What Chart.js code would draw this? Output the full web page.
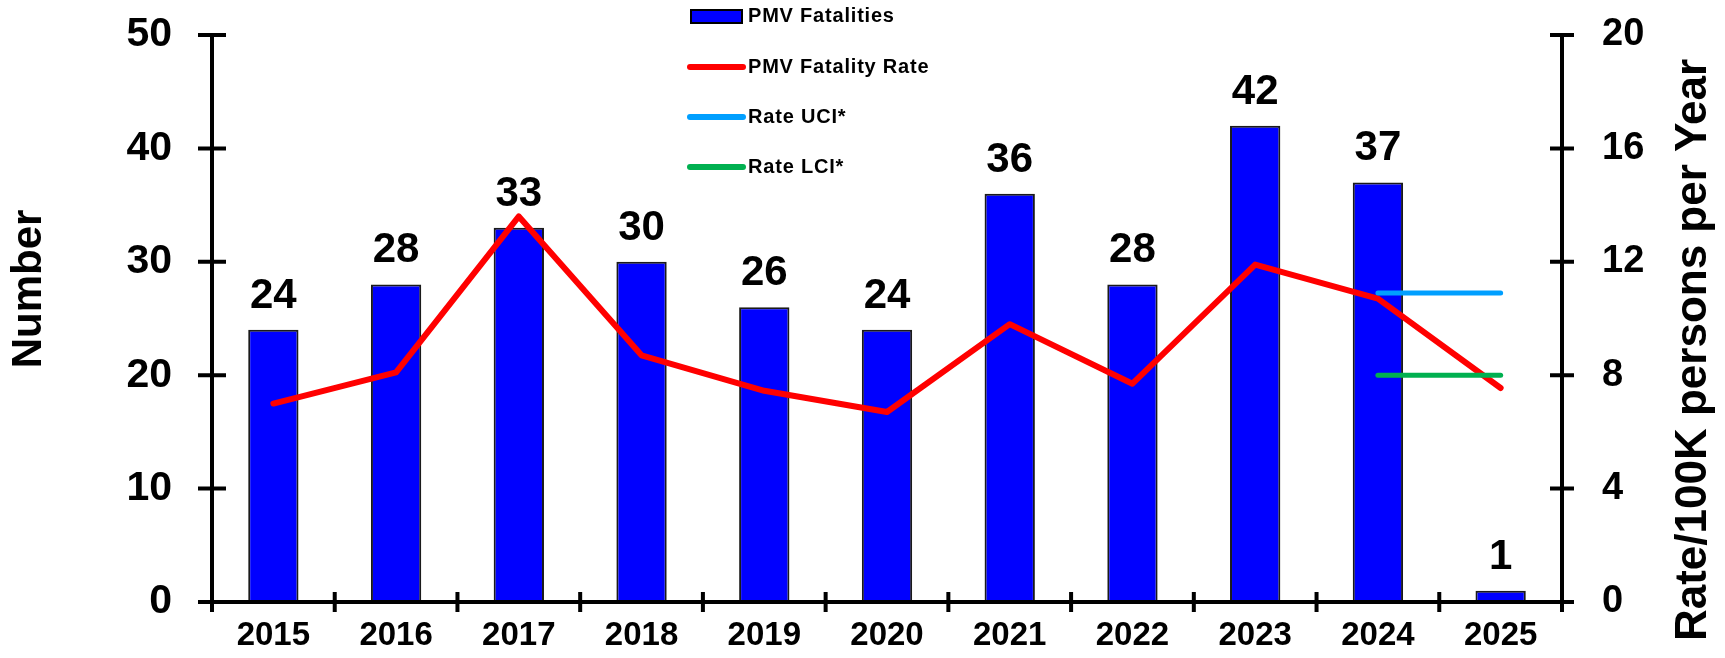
<!DOCTYPE html>
<html>
<head>
<meta charset="utf-8">
<script src="https://cdn.jsdelivr.net/npm/chart.js@4"></script>
<style>
  body { margin: 0; background: #fff; }
  #wrap { width: 1725px; height: 658px; position: relative; }
</style>
</head>
<body>
<div id="wrap"><canvas id="pmvChart"></canvas></div>
<script>
const years = ['2015', '2016', '2017', '2018', '2019', '2020', '2021', '2022', '2023', '2024', '2025'];
const fatalities = [24, 28, 33, 30, 26, 24, 36, 28, 42, 37, 1];
const fatalityRate = [7.0, 8.1, 13.6, 8.7, 7.45, 6.7, 9.8, 7.7, 11.9, 10.7, 7.55];
const rateUCI = [null, null, null, null, null, null, null, null, null, 10.9, 10.9];
const rateLCI = [null, null, null, null, null, null, null, null, null, 8.0, 8.0];
const leftTicks = [0, 10, 20, 30, 40, 50];
const rightTicks = [0, 4, 8, 12, 16, 20];

const FONT = '"Liberation Sans", Arial, sans-serif';

// axes with ticks crossing the line, like the original
const axesPlugin = {
    id: 'axesPlugin',
    afterDatasetsDraw(chart) {
        const ctx = chart.ctx;
        const { y, y1 } = chart.scales;
        const area = chart.chartArea;
        ctx.save();
        ctx.strokeStyle = '#000';
        ctx.lineWidth = 4;
        ctx.lineCap = 'butt';
        ctx.beginPath();
        ctx.moveTo(area.left, area.top);
        ctx.lineTo(area.left, area.bottom + 10);
        ctx.moveTo(area.right, area.top);
        ctx.lineTo(area.right, area.bottom + 10);
        ctx.moveTo(area.left, area.bottom);
        ctx.lineTo(area.right, area.bottom);
        leftTicks.forEach(v => {
            const py = y.getPixelForValue(v);
            ctx.moveTo(area.left - 14, py);
            ctx.lineTo(area.left + 14, py);
        });
        rightTicks.forEach(v => {
            const py = y1.getPixelForValue(v);
            ctx.moveTo(area.right - 12, py);
            ctx.lineTo(area.right + 12, py);
        });
        const step = (area.right - area.left) / years.length;
        for (let i = 1; i < years.length; i++) {
            const px = area.left + step * i;
            ctx.moveTo(px, area.bottom - 10);
            ctx.lineTo(px, area.bottom + 10);
        }
        ctx.stroke();
        ctx.restore();
    }
};

// value labels above bars, axis titles and the legend
const textPlugin = {
    id: 'textPlugin',
    afterDraw(chart) {
        const ctx = chart.ctx;
        ctx.save();
        ctx.fillStyle = '#000';
        ctx.textAlign = 'center';
        ctx.textBaseline = 'alphabetic';
        ctx.font = 'bold 42px ' + FONT;
        const barMeta = chart.getDatasetMeta(3);
        barMeta.data.forEach((bar, i) => {
            ctx.fillText(String(fatalities[i]), bar.x, bar.y - 22);
        });

        ctx.textBaseline = 'middle';
        ctx.save();
        ctx.translate(29, 289);
        ctx.rotate(-Math.PI / 2);
        ctx.fillText('Number', 0, 0);
        ctx.restore();
        ctx.save();
        ctx.translate(1694, 350);
        ctx.rotate(-Math.PI / 2);
        ctx.font = 'bold 44px ' + FONT;
        ctx.fillText('Rate/100K persons per Year', 0, 0);
        ctx.restore();

        // legend
        ctx.font = 'bold 20px ' + FONT;
        ctx.letterSpacing = '0.8px';
        ctx.textAlign = 'left';
        ctx.fillStyle = '#0000FF';
        ctx.fillRect(691, 10, 51, 13);
        ctx.strokeStyle = '#000';
        ctx.lineWidth = 2;
        ctx.strokeRect(691, 10, 51, 13);
        ctx.fillStyle = '#000';
        ctx.fillText('PMV Fatalities', 748, 16);
        const items = [
            ['PMV Fatality Rate', '#FF0000', 67],
            ['Rate UCI*', '#009FFF', 117],
            ['Rate LCI*', '#00B050', 167]
        ];
        ctx.lineCap = 'round';
        ctx.lineWidth = 6;
        items.forEach(([label, color, ly]) => {
            ctx.strokeStyle = color;
            ctx.beginPath();
            ctx.moveTo(690, ly);
            ctx.lineTo(743, ly);
            ctx.stroke();
            ctx.fillStyle = '#000';
            ctx.fillText(label, 748, ly);
        });
        ctx.restore();
    }
};

// keep the tick padding from pushing the plot area in
function fixVertical(width) {
    return (s) => {
        s.width = width;
        s.paddingTop = 0;
        s.paddingBottom = 0;
    };
}

const ctx = document.getElementById('pmvChart').getContext('2d');
new Chart(ctx, {
    data: {
        labels: years,
        datasets: [
            {
                type: 'line',
                label: 'Rate LCI*',
                data: rateLCI,
                yAxisID: 'y1',
                borderColor: '#00B050',
                borderWidth: 5,
                borderCapStyle: 'round',
                pointRadius: 0,
                fill: false,
                order: 1
            },
            {
                type: 'line',
                label: 'Rate UCI*',
                data: rateUCI,
                yAxisID: 'y1',
                borderColor: '#009FFF',
                borderWidth: 5,
                borderCapStyle: 'round',
                pointRadius: 0,
                fill: false,
                order: 1
            },
            {
                type: 'line',
                label: 'PMV Fatality Rate',
                data: fatalityRate,
                yAxisID: 'y1',
                borderColor: '#FF0000',
                borderWidth: 6,
                borderCapStyle: 'round',
                borderJoinStyle: 'round',
                pointRadius: 0,
                tension: 0,
                fill: false,
                order: 1
            },
            {
                type: 'bar',
                label: 'PMV Fatalities',
                data: fatalities,
                yAxisID: 'y',
                backgroundColor: '#0000FF',
                borderColor: '#1a1a1a',
                borderWidth: 2,
                categoryPercentage: 1,
                barPercentage: 0.41,
                order: 2
            }
        ]
    },
    options: {
        responsive: true,
        maintainAspectRatio: false,
        animation: false,
        layout: { padding: { top: 35, left: 0, right: 0, bottom: 0 } },
        plugins: {
            legend: { display: false },
            tooltip: { enabled: false }
        },
        scales: {
            x: {
                offset: true,
                grid: { display: false, drawTicks: false },
                border: { display: false },
                ticks: {
                    color: '#000',
                    font: { family: FONT, size: 33, weight: 'bold' },
                    padding: 14,
                    maxRotation: 0,
                    autoSkip: false
                },
                afterFit: (s) => { s.height = 56; }
            },
            y: {
                position: 'left',
                min: 0,
                max: 50,
                grid: { display: false, drawTicks: false },
                border: { display: false },
                ticks: {
                    stepSize: 10,
                    color: '#000',
                    font: { family: FONT, size: 41, weight: 'bold' },
                    padding: 40
                },
                afterFit: fixVertical(212)
            },
            y1: {
                position: 'right',
                min: 0,
                max: 20,
                grid: { display: false, drawTicks: false },
                border: { display: false },
                ticks: {
                    stepSize: 4,
                    color: '#000',
                    font: { family: FONT, size: 38, weight: 'bold' },
                    padding: 40
                },
                afterFit: fixVertical(163)
            }
        }
    },
    plugins: [axesPlugin, textPlugin]
});
</script>
</body>
</html>
